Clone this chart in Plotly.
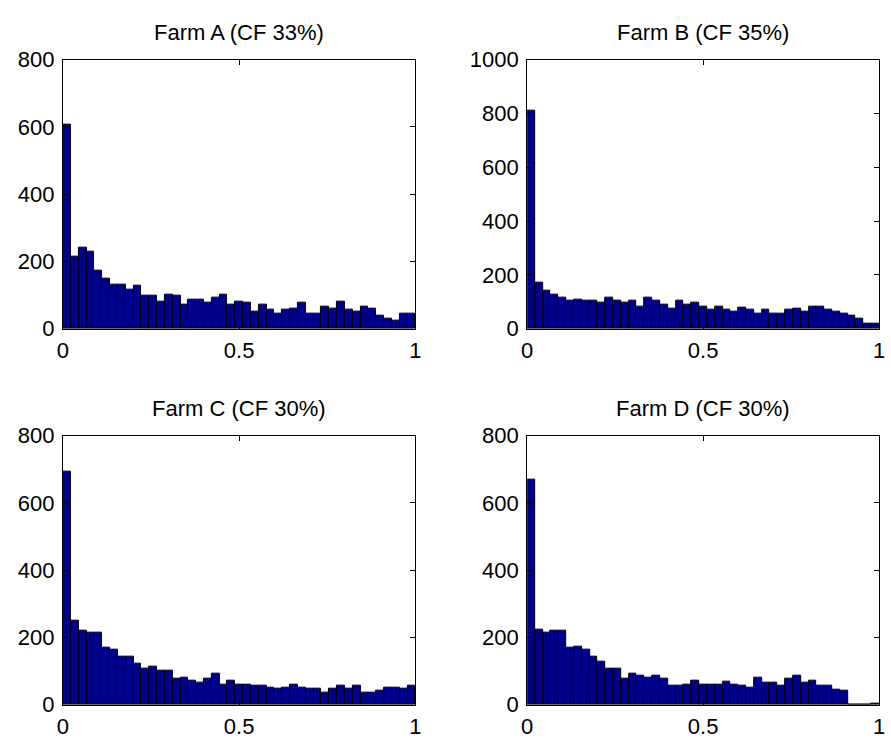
import numpy as np
import plotly.graph_objects as go

# Histogram counts (45 equal bins over [0, 1]) for each wind farm
farm_a_counts = [608, 215, 240, 230, 173, 148, 132, 132, 117, 127,
                 97, 97, 82, 102, 97, 72, 87, 87, 77, 92,
                 102, 72, 82, 77, 51, 72, 57, 45, 57, 61,
                 77, 45, 45, 66, 61, 82, 57, 51, 66, 61,
                 40, 31, 25, 46, 46]
farm_b_counts = [811, 171, 140, 127, 114, 103, 108, 103, 103, 96,
                 114, 103, 96, 103, 82, 114, 103, 90, 76, 103,
                 90, 96, 83, 71, 83, 71, 63, 77, 71, 57,
                 70, 57, 57, 70, 76, 63, 83, 83, 70, 62,
                 56, 50, 37, 18, 18]
farm_c_counts = [694, 249, 219, 214, 214, 169, 163, 143, 143, 123,
                 107, 112, 102, 102, 77, 81, 71, 66, 77, 92,
                 61, 71, 61, 61, 57, 57, 52, 47, 52, 61,
                 52, 47, 47, 36, 47, 57, 47, 57, 36, 36,
                 41, 52, 52, 47, 57]
farm_d_counts = [668, 224, 215, 219, 219, 169, 173, 163, 143, 127,
                 107, 107, 77, 92, 87, 81, 87, 77, 57, 57,
                 61, 72, 61, 61, 61, 67, 61, 57, 52, 81,
                 66, 66, 57, 77, 87, 66, 72, 57, 57, 46,
                 41, 0, 0, 0, 4]

titles = ["Farm A (CF 33%)", "Farm B (CF 35%)", "Farm C (CF 30%)", "Farm D (CF 30%)"]
y_max = [800, 1000, 800, 800]
x_ticks = [0, 0.5, 1]
x_tick_text = ["0", "0.5", "1"]

all_counts = [farm_a_counts, farm_b_counts, farm_c_counts, farm_d_counts]

W, H = 891, 749
FONT = "Liberation Sans, Arial, Helvetica, sans-serif"
FS = 22
BAR_FILL = "#00008F"

# panel frames in pixels: (left, right, top, bottom)
col_x = [(57.7, 415.0), (528.3, 885.0)]
row_y = [(49.3, 327.7), (438.3, 716.6)]

fig = go.Figure()
annotations = []
for k, counts in enumerate(all_counts):
    r, c = divmod(k, 2)
    n = len(counts)
    edges = np.linspace(0.0, 1.0, n + 1)
    centers = (edges[:-1] + edges[1:]) / 2
    xa = "x" if k == 0 else f"x{k + 1}"
    ya = "y" if k == 0 else f"y{k + 1}"
    fig.add_trace(go.Bar(
        x=centers, y=counts, width=1.0 / n,
        marker=dict(color=BAR_FILL, line=dict(color="black", width=1)),
        xaxis=xa, yaxis=ya, showlegend=False,
    ))
    x0, x1 = col_x[c]
    t, b = row_y[r]
    xdom = [x0 / W, x1 / W]
    ydom = [1 - b / H, 1 - t / H]
    common = dict(showline=True, linecolor="black", linewidth=1, mirror="ticks",
                  ticks="inside", ticklen=5, tickcolor="black", showgrid=False,
                  zeroline=False, tickfont=dict(family=FONT, size=FS, color="black"))
    xname = "xaxis" if k == 0 else f"xaxis{k + 1}"
    yname = "yaxis" if k == 0 else f"yaxis{k + 1}"
    fig.update_layout(**{
        xname: dict(domain=xdom, range=[0, 1], tickvals=x_ticks, ticktext=x_tick_text,
                    anchor=ya, ticklabelstandoff=2, **common),
        yname: dict(domain=ydom, range=[0, y_max[k]], tickmode="linear", tick0=0, dtick=200,
                    anchor=xa, ticklabelstandoff=3, **common),
    })
    annotations.append(dict(
        text=titles[k], x=(xdom[0] + xdom[1]) / 2, y=ydom[1], xref="paper", yref="paper",
        xanchor="center", yanchor="bottom", yshift=13, showarrow=False,
        font=dict(family=FONT, size=FS, color="black"),
    ))

fig.update_layout(
    width=W, height=H, margin=dict(l=0, r=0, t=0, b=0),
    paper_bgcolor="white", plot_bgcolor="white",
    bargap=0, annotations=annotations,
)

fig.write_html("out.html")
